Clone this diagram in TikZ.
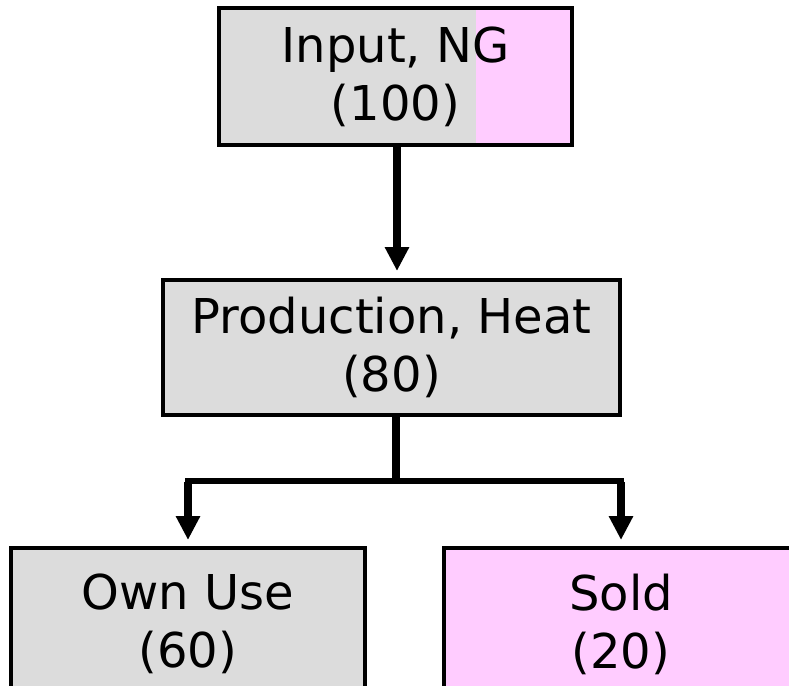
\documentclass[tikz,border=0pt]{standalone}
\usepackage{fontspec}
\setmainfont{DejaVu Sans}
\usetikzlibrary{arrows.meta}
\definecolor{boxgray}{RGB}{220,220,220}
\definecolor{boxpink}{RGB}{255,204,255}
\begin{document}
\begin{tikzpicture}[x=1pt,y=-1pt,
  box/.style={draw=black, line width=4pt, fill=boxgray, align=center,
    inner sep=0pt, font=\fontsize{48}{58}\selectfont},
  flow/.style={line width=8pt, -{Triangle[width=23pt,length=24pt]}},
  link/.style={line width=8pt},
  bar/.style={line width=6pt, line cap=rect}]
\useasboundingbox (0,0) rectangle (789,685);
\clip (0,0) rectangle (789,685);

% stages of the flow
\node[box, minimum width=353pt, minimum height=137pt,
  path picture={\fill[boxpink] ([xshift=-96pt]path picture bounding box.north east)
    rectangle (path picture bounding box.south east);}]
  (input) at (395.5,76.5) {Input, NG\\(100)};
\node[box, minimum width=457pt, minimum height=135pt]
  (prod) at (391.5,347.5) {Production, Heat\\(80)};
\node[box, minimum width=354pt, minimum height=152pt]
  (own) at (188,624) {Own Use\\(60)};
\node[box, fill=boxpink, minimum width=354pt, minimum height=152pt]
  (sold) at (621,624) {Sold\\(20)};

% connectors
\draw[flow, shorten >=7pt] ([xshift=1.5pt]input.south) -- ([xshift=1.5pt]input.south |- prod.north);
\coordinate (split) at ([xshift=4.5pt,yshift=-64pt]prod.south);
\draw[link] ([xshift=4.5pt]prod.south) -- (split);
\coordinate (lcorner) at (own.north |- split);
\coordinate (rcorner) at (sold.north |- split);
\draw[bar] (lcorner) -- (rcorner);
\draw[flow, shorten >=6pt] ([yshift=-1pt]lcorner) -- (own.north);
\draw[flow, shorten >=6pt] ([yshift=-1pt]rcorner) -- (sold.north);
\end{tikzpicture}
\end{document}
